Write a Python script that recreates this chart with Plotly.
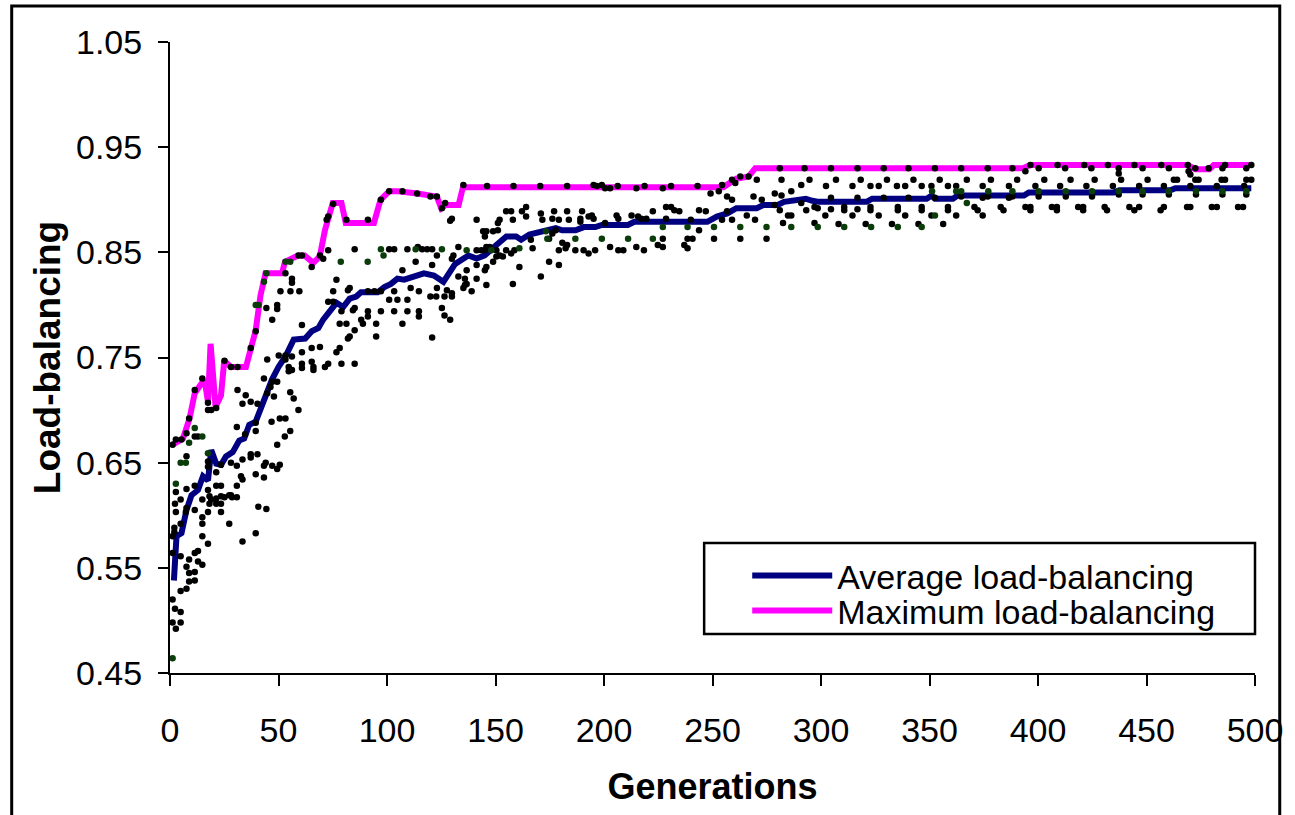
import plotly.graph_objects as go

# axis ticks
x_ticks = [0, 50, 100, 150, 200, 250, 300, 350, 400, 450, 500]
y_ticks = [0.45, 0.55, 0.65, 0.75, 0.85, 0.95, 1.05]

# maximum load-balancing per generation
max_gen = [1, 6, 9, 11.4, 14.4, 16, 17.5, 18.7, 21, 23.5, 25, 28, 35, 37, 39.5, 41.7, 44,
           51.6, 53, 59, 62, 66, 69, 71.4, 75, 79, 81, 94, 97, 101, 105, 114, 123, 125,
           127, 133, 135, 255, 261, 266.6, 269.7, 393, 396.5, 469, 472.5, 479, 481, 498]
max_lb = [0.667, 0.673, 0.692, 0.716, 0.725, 0.728, 0.708, 0.763, 0.703, 0.714, 0.747,
          0.741, 0.741, 0.759, 0.776, 0.809, 0.830, 0.830, 0.841, 0.847, 0.847, 0.840,
          0.846, 0.871, 0.897, 0.897, 0.878, 0.878, 0.900, 0.908, 0.908, 0.906, 0.903,
          0.892, 0.895, 0.895, 0.912, 0.912, 0.920, 0.922, 0.930, 0.930, 0.933, 0.933,
          0.929, 0.929, 0.933, 0.933]

# average load-balancing per generation
avg_gen = [1.8, 3, 5.3, 7.6, 9.9, 12.9, 15.2, 17.5, 19, 21.3, 23.5, 25.8, 28.9, 31.9, 34.2,
           36.5, 39.5, 42.5, 44, 47, 50, 53.2, 57, 62.3, 65.3, 68.4, 70.6, 73.7, 76.7, 79.8,
           82.8, 85.8, 88, 95.7, 98.8, 101.8, 104.8, 107.9, 112.4, 117, 121.6, 126, 131.4,
           137.5, 141.3, 145, 150.4, 155, 159.5, 161.8, 165.6, 171, 177.8, 180.7, 186.9,
           190.7, 196, 199, 211, 214, 247.6, 252, 256.8, 261, 270.4, 273.5, 280, 283, 290,
           293, 296, 299, 321, 323.6, 348.7, 351, 352.5, 360.8, 363, 393.5, 395.8, 435,
           437.5, 461, 463.3, 498.3]
avg_lb = [0.538, 0.580, 0.583, 0.605, 0.619, 0.624, 0.637, 0.633, 0.662, 0.649, 0.648,
          0.656, 0.660, 0.671, 0.673, 0.686, 0.689, 0.705, 0.716, 0.729, 0.741, 0.751,
          0.767, 0.768, 0.775, 0.778, 0.786, 0.794, 0.802, 0.798, 0.806, 0.808, 0.812,
          0.812, 0.817, 0.820, 0.825, 0.824, 0.827, 0.830, 0.828, 0.822, 0.839, 0.847,
          0.844, 0.847, 0.857, 0.865, 0.865, 0.862, 0.867, 0.870, 0.873, 0.871, 0.871,
          0.874, 0.874, 0.876, 0.876, 0.879, 0.879, 0.884, 0.887, 0.892, 0.892, 0.895,
          0.895, 0.898, 0.900, 0.901, 0.899, 0.898, 0.898, 0.901, 0.901, 0.904, 0.901,
          0.901, 0.904, 0.904, 0.907, 0.907, 0.909, 0.909, 0.911, 0.911]

# individual solutions (black dots)
ind_gen = [11.4, 14.9, 25.1, 28.1, 31.1, 37.2, 39.5, 53.2, 59.2, 60.8, 65.3, 69.1, 70.6,
           72.9, 85.1, 101.0, 103.3, 109.4, 114.2, 116.2, 118.5, 120.8,
           56.2, 56.2, 55.5, 59.6, 50.9, 44.4, 49.4, 49.4, 47.1, 60.8, 53.2, 53.2, 56.2,
           50.1, 44.8, 43.3, 47.1, 49.4, 46.3, 44.8, 47.9, 54.7, 54.7, 56.2, 60.8, 60.8,
           65.3, 66.1, 66.1, 69.1, 65.3, 60.8, 72.9, 71.4, 79.0, 85.1, 78.2, 76.7, 82.0,
           82.8, 85.1, 88.1, 88.9, 91.2, 91.2, 97.2, 103.3, 109.4, 114.7, 114.7, 107.1,
           95.0, 95.0, 81.3, 78.2, 79.0, 84.3, 85.1, 75.2, 72.9, 75.2, 76.7, 82.0, 82.8,
           91.2, 94.2, 97.2, 103.3, 110.9, 114.7, 104.8, 109.4, 101.0, 107.1, 113.2, 120.8,
           123.0, 120.0, 122.7, 123.0, 126.5, 125.3, 126.5, 120.8, 57.0, 55.4, 31.1, 34.9,
           17.5, 17.5, 19.0, 21.3, 33.4, 37.2, 40.3, 2.7, 5.3, 7.6, 8.8, 11.4, 12.9, 1.2,
           7.6, 17.5, 17.5, 21.3, 23.5, 28.1, 30.8, 33.4, 37.2, 37.2, 40.3, 44.1, 43.3,
           47.1, 49.4, 50.6, 39.5, 43.3, 32.7, 33.4, 30.8, 28.1, 27.3, 25.1, 23.5, 21.3,
           23.5, 21.3, 19.0, 18.2, 18.2, 17.5, 21.3, 23.5, 14.9, 11.4, 7.6, 2.7, 2.3, 4.9,
           2.7, 7.6, 7.3, 11.4, 14.9, 14.9, 14.9, 17.5, 17.5, 23.5, 27.3, 33.4, 39.5, 40.7,
           44.4, 30.8, 28.6, 2.0, 2.0, 1.2, 1.2, 4.9, 4.9, 8.8, 7.6, 8.8, 11.4, 11.4, 12.9,
           12.9, 14.9, 11.4, 8.8, 7.6, 4.9, 1.2, 2.3, 4.9, 1.2, 4.9, 2.7, 30.8, 34.6, 39.5,
           39.5, 46.8, 49.4, 50.6, 53.2, 52.9, 55.4, 59.2,
           72.2, 72.9, 75.2, 81.3, 91.2, 97.2, 101.0,
           107.1, 113.9, 120.0, 123.0, 125.3, 126.8, 135.2, 146.1, 158.3, 170.6, 183.0,
           195.2, 196.7, 199.0, 200.5, 202.8, 206.3, 214.9, 218.7, 227.1, 230.9, 243.1,
           254.4, 249.1, 252.9, 259.0, 260.5, 262.8, 266.6, 270.4, 281.0, 292.4,
           256.7, 259.0, 268.9, 272.7, 278.7, 281.8, 281.8, 286.3, 290.9, 294.7, 278.7,
           281.0, 284.8, 286.3, 290.9, 293.2, 297.0, 298.5, 297.0, 282.5, 269.6, 265.8,
           256.7, 254.4, 259.0, 262.8, 274.9, 250.7, 246.9, 243.8, 240.0, 243.8, 240.8,
           238.5, 237.0, 238.5, 227.1, 227.1, 224.8, 234.7, 230.9, 228.6, 232.4, 228.6,
           222.5, 219.5, 217.2, 215.7, 212.7, 206.6, 205.8, 200.5, 194.4, 195.2, 192.9,
           189.9, 189.1, 189.1, 183.8, 183.0, 179.2, 177.0, 176.2, 171.6, 170.9, 164.1,
           164.1, 162.2, 158.0, 157.2, 154.9, 151.9, 151.1, 151.1, 148.9, 145.8, 145.1,
           144.3, 141.3, 129.9, 129.1, 176.2, 182.3, 179.2, 174.7, 166.3, 167.1, 158.7,
           157.2, 154.9, 153.4, 151.9, 150.4, 147.3, 145.8, 145.1, 143.5, 141.3, 132.9,
           130.6, 129.9, 136.7, 132.9, 135.9, 141.3, 145.8, 145.1, 148.9, 150.4, 161.0,
           158.0, 145.8, 141.3, 136.7, 135.2, 139.0, 135.9, 127.6, 129.9, 129.9, 129.1,
           170.9, 174.7, 179.2, 190.6, 192.9, 195.9, 202.8, 206.6, 208.9, 214.9, 218.4,
           186.8, 180.8, 183.0, 177.7,
           304.6, 316.8, 328.9, 340.3, 352.5, 364.6, 376.8, 388.2, 394.2, 396.5, 400.3,
           409.0, 412.5, 421.3, 424.6, 432.2, 437.2, 437.2, 444.4, 448.2, 456.8, 460.3,
           469.0, 469.4, 470.2, 472.5, 478.6, 485.0, 486.2, 496.0, 498.3,
           302.3, 306.9, 314.5, 318.3, 322.8, 326.6, 330.4, 335.0, 338.8, 342.6, 346.4,
           350.9, 354.7, 358.5, 362.3, 367.2, 374.5, 378.3, 386.6, 390.4, 398.8, 402.9,
           410.2, 415.0, 422.3, 426.1, 434.5, 438.3, 446.6, 450.5, 458.0, 462.6, 464.1,
           470.2, 472.5, 474.0, 482.4, 484.6, 486.2, 495.0, 496.0, 498.3,
           304.6, 316.8, 328.9, 340.3, 352.5, 364.6, 374.5, 376.8, 386.6, 388.2, 400.3,
           412.8, 424.9, 437.2, 448.2, 460.3, 472.8, 485.0, 496.0,
           304.6, 310.7, 310.7, 316.8, 322.8, 322.8, 335.4, 335.4, 346.4, 346.4, 358.5,
           358.5, 370.7, 372.2, 382.8, 384.1, 394.2, 396.5, 396.5, 406.4, 408.7, 408.7,
           418.5, 420.8, 420.8, 430.7, 431.8, 442.1, 444.4, 446.6, 456.5, 458.0, 468.7,
           470.2, 480.1, 482.4, 492.2, 494.5,
           302.0, 314.5, 326.6, 338.8, 350.9, 362.3, 374.5,
           308.1, 320.6, 332.7, 344.9, 356.3]
ind_lb = [0.719, 0.730, 0.747, 0.741, 0.741, 0.759, 0.775, 0.830, 0.847, 0.847, 0.836,
          0.847, 0.844, 0.852, 0.853, 0.853, 0.853, 0.853, 0.855, 0.853, 0.853, 0.853,
          0.825, 0.821, 0.813, 0.813, 0.813, 0.797, 0.800, 0.796, 0.786, 0.781, 0.752,
          0.748, 0.751, 0.752, 0.748, 0.730, 0.727, 0.727, 0.722, 0.716, 0.713, 0.741,
          0.737, 0.738, 0.744, 0.740, 0.746, 0.741, 0.738, 0.760, 0.759, 0.755, 0.744,
          0.741, 0.744, 0.744, 0.759, 0.755, 0.768, 0.770, 0.776, 0.786, 0.782, 0.789,
          0.794, 0.794, 0.794, 0.794, 0.794, 0.789, 0.782, 0.782, 0.770, 0.782, 0.782,
          0.794, 0.795, 0.797, 0.803, 0.803, 0.813, 0.824, 0.814, 0.816, 0.813, 0.813,
          0.813, 0.813, 0.816, 0.813, 0.805, 0.805, 0.805, 0.833, 0.841, 0.838, 0.847,
          0.808, 0.808, 0.816, 0.808, 0.797, 0.790, 0.769, 0.711, 0.717, 0.719, 0.714,
          0.707, 0.700, 0.700, 0.702, 0.706, 0.708, 0.706, 0.672, 0.672, 0.678, 0.692,
          0.675, 0.675, 0.667, 0.656, 0.651, 0.646, 0.641, 0.648, 0.650, 0.647, 0.653,
          0.658, 0.655, 0.658, 0.650, 0.647, 0.647, 0.644, 0.648, 0.639, 0.636, 0.637,
          0.634, 0.628, 0.619, 0.619, 0.617, 0.618, 0.616, 0.611, 0.611, 0.615, 0.611,
          0.618, 0.624, 0.628, 0.628, 0.615, 0.628, 0.625, 0.622, 0.611, 0.615, 0.603,
          0.607, 0.603, 0.605, 0.598, 0.592, 0.580, 0.603, 0.573, 0.603, 0.592, 0.575,
          0.583, 0.608, 0.606, 0.617, 0.617, 0.588, 0.584, 0.580, 0.564, 0.592, 0.561,
          0.558, 0.551, 0.545, 0.546, 0.564, 0.566, 0.556, 0.553, 0.538, 0.537, 0.530,
          0.528, 0.520, 0.511, 0.508, 0.498, 0.498, 0.492, 0.684, 0.677, 0.680, 0.688,
          0.689, 0.667, 0.692, 0.692, 0.675, 0.680, 0.700,
          0.881, 0.884, 0.896, 0.881, 0.881, 0.900, 0.908,
          0.908, 0.906, 0.903, 0.903, 0.892, 0.897, 0.914, 0.913, 0.913, 0.913, 0.913,
          0.914, 0.913, 0.914, 0.911, 0.911, 0.913, 0.911, 0.913, 0.911, 0.913, 0.913,
          0.914, 0.906, 0.908, 0.919, 0.916, 0.922, 0.922, 0.919, 0.930, 0.930,
          0.903, 0.900, 0.903, 0.900, 0.906, 0.904, 0.919, 0.908, 0.914, 0.919, 0.895,
          0.890, 0.885, 0.885, 0.897, 0.890, 0.893, 0.892, 0.878, 0.878, 0.881, 0.885,
          0.889, 0.881, 0.881, 0.863, 0.863, 0.863, 0.889, 0.890, 0.881, 0.871, 0.863,
          0.863, 0.857, 0.854, 0.863, 0.855, 0.857, 0.889, 0.893, 0.893, 0.890, 0.882,
          0.889, 0.882, 0.882, 0.884, 0.885, 0.882, 0.885, 0.878, 0.885, 0.882, 0.884,
          0.889, 0.882, 0.879, 0.881, 0.889, 0.881, 0.889, 0.882, 0.881, 0.887, 0.893,
          0.884, 0.889, 0.881, 0.889, 0.889, 0.881, 0.878, 0.871, 0.870, 0.870, 0.865,
          0.870, 0.881, 0.882, 0.880, 0.868, 0.854, 0.852, 0.863, 0.862, 0.854, 0.852,
          0.849, 0.852, 0.846, 0.847, 0.852, 0.855, 0.855, 0.852, 0.852, 0.852, 0.855,
          0.847, 0.844, 0.833, 0.827, 0.825, 0.838, 0.836, 0.833, 0.841, 0.846, 0.836,
          0.820, 0.819, 0.825, 0.820, 0.816, 0.813, 0.819, 0.814, 0.811, 0.808, 0.786,
          0.827, 0.841, 0.838, 0.852, 0.849, 0.852, 0.855, 0.852, 0.852, 0.855, 0.852,
          0.852, 0.859, 0.857, 0.871,
          0.930, 0.930, 0.930, 0.930, 0.930, 0.930, 0.930, 0.930, 0.927, 0.933, 0.930,
          0.933, 0.930, 0.933, 0.930, 0.933, 0.930, 0.925, 0.933, 0.930, 0.933, 0.930,
          0.933, 0.927, 0.924, 0.930, 0.930, 0.930, 0.933, 0.930, 0.933,
          0.913, 0.919, 0.913, 0.919, 0.913, 0.913, 0.919, 0.913, 0.913, 0.919, 0.913,
          0.913, 0.919, 0.913, 0.913, 0.919, 0.913, 0.919, 0.913, 0.919, 0.913, 0.919,
          0.913, 0.919, 0.913, 0.919, 0.913, 0.919, 0.913, 0.919, 0.913, 0.919, 0.919,
          0.913, 0.919, 0.919, 0.913, 0.919, 0.919, 0.913, 0.919, 0.919,
          0.902, 0.902, 0.902, 0.902, 0.902, 0.903, 0.902, 0.903, 0.902, 0.903, 0.903,
          0.903, 0.903, 0.905, 0.905, 0.905, 0.905, 0.905, 0.905,
          0.891, 0.893, 0.890, 0.891, 0.893, 0.890, 0.893, 0.890, 0.893, 0.890, 0.893,
          0.890, 0.893, 0.890, 0.893, 0.890, 0.893, 0.893, 0.890, 0.893, 0.893, 0.890,
          0.893, 0.893, 0.890, 0.893, 0.890, 0.893, 0.890, 0.893, 0.890, 0.893, 0.893,
          0.893, 0.893, 0.893, 0.893, 0.893,
          0.885, 0.885, 0.885, 0.885, 0.885, 0.885, 0.885,
          0.877, 0.877, 0.877, 0.877, 0.877]

# elite solutions (dark green dots)
elite_gen = [43.3, 44.4, 39.5, 40.8, 53.2, 55.4, 97.2, 113.2, 125.3, 78.7, 91.1, 98.4,
             11.4, 8.8, 14.9, 4.9, 7.3, 17.5, 2.7, 1.2,
             262.8, 274.9, 286.3, 298.5, 250.7, 238.5, 227.1, 199.0, 186.8, 173.9, 211.1,
             222.5, 173.2, 161.0, 148.1, 136.7,
             351.2, 362.3, 364.6, 377.1, 388.2, 400.3, 412.8, 424.9, 437.2, 448.2, 460.3,
             472.8, 485.0, 496.0, 352.5, 310.7, 323.1, 335.4, 346.4, 367.2]
elite_lb = [0.822, 0.830, 0.800, 0.800, 0.841, 0.841, 0.853, 0.853, 0.853, 0.841, 0.841,
            0.847, 0.683, 0.669, 0.675, 0.650, 0.650, 0.659, 0.630, 0.464,
            0.874, 0.874, 0.874, 0.874, 0.874, 0.874, 0.874, 0.863, 0.863, 0.863, 0.863,
            0.863, 0.870, 0.854, 0.852, 0.852,
            0.908, 0.908, 0.908, 0.908, 0.908, 0.908, 0.908, 0.908, 0.908, 0.908, 0.908,
            0.908, 0.908, 0.908, 0.885, 0.874, 0.874, 0.874, 0.874, 0.897]

font_family = "Liberation Sans, Arial, sans-serif"

fig = go.Figure()
fig.add_trace(go.Scatter(x=avg_gen, y=avg_lb, mode='lines', name='Average load-balancing',
                         line=dict(color='#000080', width=6), legend='legend'))
fig.add_trace(go.Scatter(x=max_gen, y=max_lb, mode='lines', name='Maximum load-balancing',
                         line=dict(color='#ff00ff', width=6), legend='legend2'))
fig.add_trace(go.Scatter(x=ind_gen, y=ind_lb, mode='markers', showlegend=False,
                         marker=dict(color='black', size=6.5)))
fig.add_trace(go.Scatter(x=elite_gen, y=elite_lb, mode='markers', showlegend=False,
                         marker=dict(color='#0b3d0b', size=6.5)))

legend_style = dict(xanchor='left', yanchor='middle', bgcolor='rgba(0,0,0,0)',
                    borderwidth=0, itemwidth=80,
                    font=dict(family=font_family, size=34, color='black'))

fig.update_layout(
    width=1295, height=815,
    margin=dict(l=170, r=28, t=42, b=142),
    paper_bgcolor='white', plot_bgcolor='white',
    font=dict(family=font_family, color='black'),
    xaxis=dict(range=[0, 500], tickvals=x_ticks, showgrid=False, zeroline=False,
               showline=True, linecolor='black', linewidth=2,
               ticks='outside', ticklen=11, tickwidth=2, tickcolor='black',
               ticklabelstandoff=15, ticklabeloverflow='allow', tickfont=dict(size=34),
               title=dict(text='<b>Generations</b>', font=dict(size=36), standoff=26)),
    yaxis=dict(range=[0.45, 1.05], tickvals=y_ticks, tickformat='.2f', showgrid=False,
               zeroline=False, showline=True, linecolor='black', linewidth=2,
               ticks='outside', ticklen=10, tickwidth=2, tickcolor='black',
               ticklabelstandoff=9, tickfont=dict(size=34),
               title=dict(text='<b>Load-balancing</b>', font=dict(size=37), standoff=4)),
    legend=dict(x=0.532, y=0.1538, **legend_style),
    legend2=dict(x=0.532, y=0.0983, **legend_style),
    showlegend=True,
)

# legend frame
fig.add_shape(type='rect', xref='paper', yref='paper', x0=0.4923, x1=1.0, y0=0.0618,
              y1=0.2060, line=dict(color='black', width=2.5), fillcolor='white',
              layer='below')
# outer frame around the whole chart
fig.add_shape(type='rect', xref='paper', yref='paper', x0=-0.1459, x1=1.0228, y0=-0.35,
              y1=1.0571, line=dict(color='black', width=3), fillcolor='rgba(0,0,0,0)')

# drop the default page margin so the figure sits at the window's top-left corner
fig.write_html("out.html", config={'displayModeBar': False},
               post_script="document.body.style.margin='0';")
